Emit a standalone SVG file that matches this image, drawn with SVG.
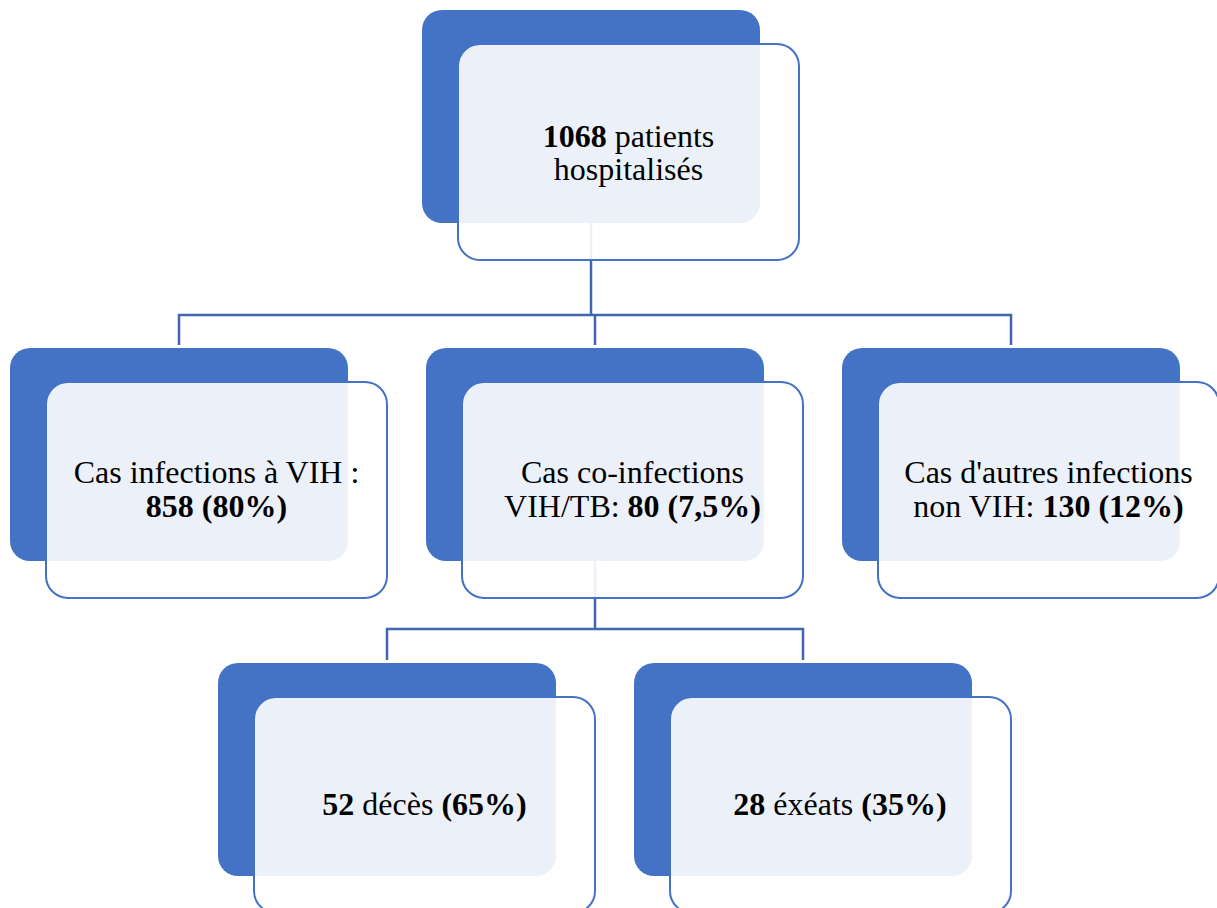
<svg xmlns="http://www.w3.org/2000/svg" width="1217" height="908" viewBox="0 0 1217 908">
<style>
.back{fill:#4472C4;}
.front{fill:#FFFFFF;fill-opacity:0.9;stroke:#4472C4;stroke-width:2;}
.conn{fill:none;stroke:#3F67B1;stroke-width:2.5;}
text{font-family:"Liberation Serif","Times New Roman",serif;font-size:32px;fill:#000;text-anchor:middle;}
.b{font-weight:bold;}
</style>
<rect width="1217" height="908" fill="#FFFFFF"/>
<g id="backs">
<rect class="back" x="422" y="10" width="338" height="213" rx="20"/>
<rect class="back" x="10" y="348" width="338" height="213" rx="20"/>
<rect class="back" x="426" y="348" width="338" height="213" rx="20"/>
<rect class="back" x="842" y="348" width="338" height="213" rx="20"/>
<rect class="back" x="218" y="663" width="338" height="213" rx="20"/>
<rect class="back" x="634" y="663" width="338" height="213" rx="20"/>
</g>
<g id="connectors">
<path class="conn" d="M591,223 V315"/>
<path class="conn" d="M179,345 V315 H1011 V345"/>
<path class="conn" d="M595,315 V345"/>
<path class="conn" d="M595,561 V629"/>
<path class="conn" d="M387,660 V629 H803 V660"/>
</g>
<g id="node-root">
<rect class="front" x="458" y="44" width="341" height="216" rx="22"/>
<text x="628.5" y="147"><tspan class="b">1068</tspan> patients</text>
<text x="628.5" y="180">hospitalisés</text>
</g>
<g id="node-vih">
<rect class="front" x="46" y="382" width="341" height="216" rx="22"/>
<text x="216.5" y="483">Cas infections à VIH :</text>
<text x="216.5" y="517" class="b">858 (80%)</text>
</g>
<g id="node-coinf">
<rect class="front" x="462" y="382" width="341" height="216" rx="22"/>
<text x="632.5" y="483">Cas co-infections</text>
<text x="632.5" y="517">VIH/TB: <tspan class="b">80 (7,5%)</tspan></text>
</g>
<g id="node-autres">
<rect class="front" x="878" y="382" width="341" height="216" rx="22"/>
<text x="1048.5" y="483">Cas d'autres infections</text>
<text x="1048.5" y="517">non VIH: <tspan class="b">130 (12%)</tspan></text>
</g>
<g id="node-deces">
<rect class="front" x="254" y="697" width="341" height="216" rx="22"/>
<text x="424.5" y="815"><tspan class="b">52</tspan> décès <tspan class="b">(65%)</tspan></text>
</g>
<g id="node-exeats">
<rect class="front" x="670" y="697" width="341" height="216" rx="22"/>
<text x="840" y="815"><tspan class="b">28</tspan> éxéats <tspan class="b">(35%)</tspan></text>
</g>
</svg>
